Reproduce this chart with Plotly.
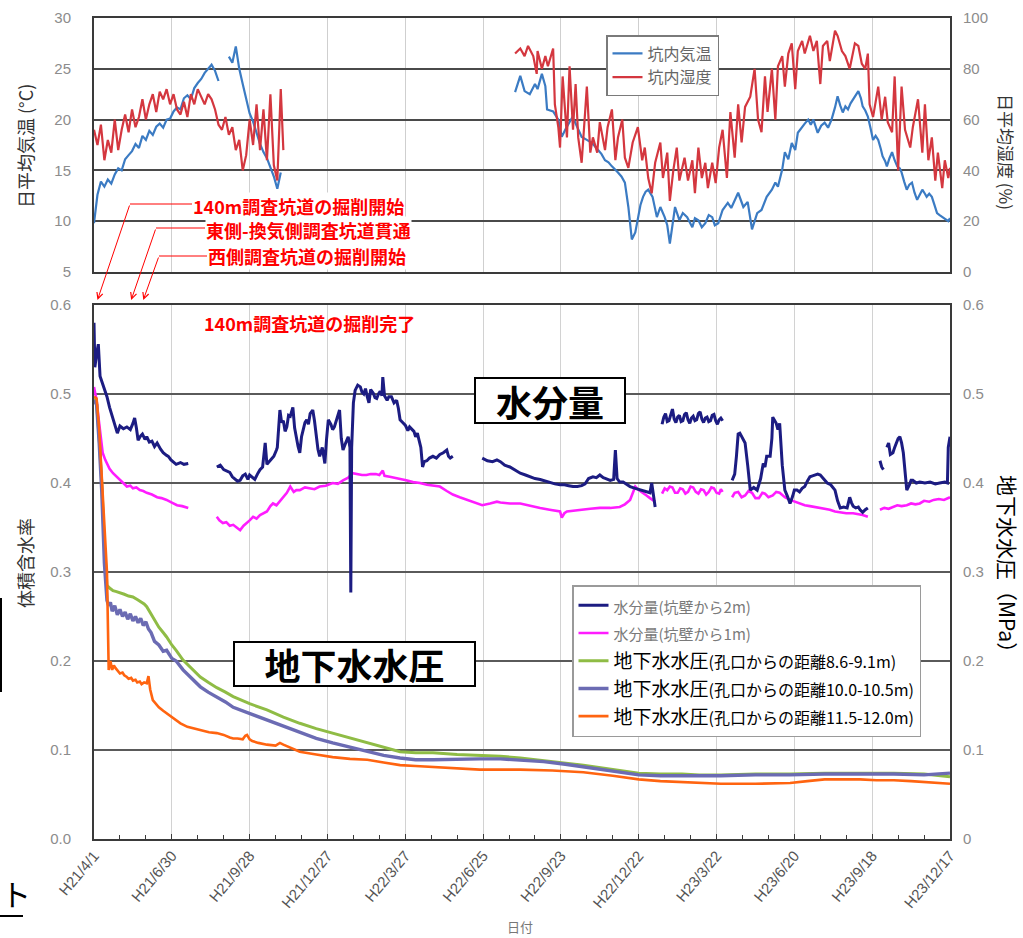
import pandas as pd
import plotly.graph_objects as go

BASE = pd.Timestamp("2009-04-01")
END = pd.Timestamp("2011-12-17")

tick_dates = ["2009-04-01", "2009-06-30", "2009-09-28", "2009-12-27", "2010-03-27", "2010-06-25",
              "2010-09-23", "2010-12-22", "2011-03-22", "2011-06-20", "2011-09-18", "2011-12-17"]
tick_labels = ["H21/4/1", "H21/6/30", "H21/9/28", "H21/12/27", "H22/3/27", "H22/6/25",
               "H22/9/23", "H22/12/22", "H23/3/22", "H23/6/20", "H23/9/18", "H23/12/17"]

# ---- gallery air temperature (degC), (days since H21/4/1, value) ----
temp_a = [(0, 9.8), (4, 12.6), (8, 13.9), (12, 13.4), (16, 14.1), (20, 13.7), (24, 14.6), (28, 15.2),
          (32, 15.0), (36, 16.1), (40, 16.5), (44, 16.9), (48, 17.6), (52, 17.2), (56, 18.4), (60, 18.0),
          (64, 18.9), (68, 18.5), (72, 19.3), (76, 19.6), (80, 19.2), (84, 20.0), (88, 20.1), (92, 20.8),
          (96, 21.2), (100, 21.0), (104, 22.1), (108, 22.4), (112, 22.0), (116, 23.1), (120, 23.6),
          (124, 24.0), (128, 24.6), (132, 25.0), (136, 25.4), (140, 24.8), (144, 23.8), (148, None),
          (156, 26.2), (160, 25.6), (164, 27.2), (168, 25.0), (172, 23.5), (176, 22.0), (180, 20.6),
          (184, 19.8), (188, 18.6), (192, 17.6), (196, 16.8), (200, 16.2), (204, 15.3), (208, 14.4),
          (212, 13.2), (216, 14.8)]
temp_b = [(487, 22.7), (490, 23.6), (493, 24.3), (498, 22.8), (504, 22.5), (510, 23.5), (513, 23.0),
          (518, 24.5), (522, 23.3), (524, 21.0), (531, 20.8), (537, 20.0), (541, 18.3), (545, 19.0),
          (549, 19.6), (553, 20.2), (556, 19.8), (560, 19.0), (564, 18.3), (570, 18.0), (576, 17.7),
          (583, 17.0), (587, 16.6), (591, 16.0), (595, 15.8), (599, 15.4), (603, 15.1), (606, 14.8),
          (610, 14.4), (614, 13.8), (618, 11.4), (622, 8.2), (626, 8.9), (629, 10.4), (632, 11.6),
          (635, 12.4), (638, 12.9), (641, 13.1), (646, 12.4), (651, 10.4), (655, 11.4), (660, 10.4),
          (663, 9.6), (666, 7.8), (669, 9.5), (672, 11.4), (677, 10.1), (681, 10.8), (686, 10.4),
          (692, 9.4), (695, 10.3), (699, 10.1), (703, 9.4), (707, 9.8), (711, 10.6), (715, 10.4),
          (718, 9.6), (722, 9.8), (727, 11.1), (733, 11.8), (737, 11.3), (741, 12.1), (745, 12.8),
          (751, 11.4), (756, 11.9), (761, 9.2), (767, 10.8), (772, 11.1), (778, 12.4), (784, 13.1),
          (788, 13.8), (791, 13.4), (796, 15.1), (799, 16.8), (803, 16.1), (807, 17.7), (811, 17.0),
          (814, 18.7), (819, 19.3), (822, 19.6), (826, 20.0), (829, 19.5), (832, 20.0), (837, 18.7),
          (841, 19.4), (845, 19.7), (849, 19.2), (853, 20.0), (857, 21.2), (860, 22.3), (863, 21.4),
          (866, 20.7), (869, 21.3), (872, 21.0), (875, 21.6), (878, 22.0), (881, 22.4), (884, 22.8),
          (887, 22.1), (889, 21.3), (892, 20.9), (895, 20.3), (898, 19.2), (901, 18.0), (904, 18.4),
          (907, 18.0), (910, 17.1), (912, 16.4), (915, 15.9), (917, 15.4), (920, 16.2), (923, 16.8),
          (926, 16.0), (929, 15.4), (932, 15.2), (934, 14.8), (937, 13.9), (940, 13.1), (943, 13.6),
          (946, 13.8), (949, 12.8), (952, 12.1), (955, 12.6), (958, 13.1), (961, 12.7), (963, 12.4),
          (966, 12.7), (969, 12.4), (972, 11.6), (975, 10.8), (978, 10.6), (981, 10.4), (984, 10.2),
          (986, 10.1), (988, 10.0), (990, 10.3)]

# ---- gallery relative humidity (%) ----
hum_a = [(0, 56), (4, 50), (8, 58), (12, 44), (16, 52), (20, 47), (24, 60), (28, 48), (32, 56), (36, 62),
         (40, 55), (44, 64), (48, 57), (52, 61), (56, 68), (60, 60), (64, 66), (68, 70), (72, 63), (76, 71),
         (80, 68), (84, 72), (88, 66), (92, 70), (96, 64), (100, 62), (104, 67), (108, 61), (112, 70),
         (116, 66), (120, 72), (124, 69), (128, 66), (132, 70), (136, 68), (140, 64), (144, 58), (148, 56),
         (152, 61), (156, 54), (160, 57), (164, 48), (168, 52), (172, 40), (176, 46), (180, 60), (184, 50),
         (188, 66), (192, 48), (196, 64), (200, 44), (204, 70), (208, 42), (212, 36), (216, 72), (219, 48)]
hum_b = [(487, 86), (493, 88), (498, 85), (502, 89), (508, 85), (512, 78), (513, 87), (518, 80), (522, 85),
         (525, 81), (531, 88), (533, 66), (537, 57), (539, 49), (542, 77), (547, 53), (550, 81), (554, 56),
         (557, 74), (560, 53), (564, 43), (570, 73), (574, 47), (577, 53), (582, 47), (585, 59), (591, 48),
         (594, 57), (599, 64), (603, 44), (606, 53), (611, 60), (614, 45), (618, 41), (623, 51), (629, 57),
         (634, 44), (637, 49), (641, 37), (645, 31), (649, 43), (655, 51), (658, 37), (663, 47), (666, 28),
         (670, 40), (674, 49), (677, 36), (683, 45), (687, 36), (692, 44), (695, 31), (699, 49), (703, 37),
         (707, 43), (710, 33), (715, 43), (719, 35), (723, 49), (727, 56), (732, 37), (736, 63), (741, 45),
         (745, 66), (749, 51), (753, 65), (759, 69), (764, 80), (768, 60), (772, 55), (776, 77), (779, 63),
         (784, 80), (788, 60), (791, 81), (796, 85), (799, 73), (803, 86), (807, 90), (811, 72), (814, 87),
         (819, 91), (822, 86), (828, 93), (832, 87), (836, 91), (840, 74), (843, 89), (848, 91), (851, 83),
         (857, 95), (860, 93), (865, 87), (869, 85), (874, 80), (880, 90), (884, 89), (888, 82), (892, 80),
         (895, 86), (897, 66), (901, 61), (907, 73), (911, 60), (915, 69), (918, 59), (923, 55), (926, 77),
         (930, 40), (934, 73), (938, 56), (944, 49), (947, 57), (953, 68), (958, 47), (961, 66), (965, 44),
         (969, 53), (973, 36), (976, 47), (981, 33), (984, 44), (988, 37), (990, 41)]

# ---- volumetric water content, 2 m from gallery wall (segments between logger gaps) ----
m2_seg1 = [(0, 0.58), (1, 0.53), (3, 0.545), (5, 0.556), (7, 0.52), (10, 0.512), (13, 0.503), (15, 0.497),
           (18, 0.485), (22, 0.471), (25, 0.462), (27, 0.456), (30, 0.464), (34, 0.461), (38, 0.463),
           (42, 0.46), (45, 0.467), (47, 0.473), (49, 0.462), (51, 0.448), (54, 0.453), (56, 0.455),
           (59, 0.449), (61, 0.452), (64, 0.446), (67, 0.447), (70, 0.441), (73, 0.445), (77, 0.438),
           (80, 0.434), (84, 0.431), (86, 0.43), (89, 0.426), (91, 0.424), (95, 0.421), (100, 0.423),
           (104, 0.421), (109, 0.422)]
m2_seg2 = [(142, 0.418), (146, 0.42), (150, 0.415), (154, 0.413), (157, 0.412), (160, 0.407), (163, 0.405),
           (166, 0.402), (169, 0.403), (172, 0.408), (175, 0.41), (178, 0.404), (180, 0.409), (183, 0.406),
           (186, 0.404), (189, 0.41), (192, 0.415), (195, 0.418), (198, 0.445), (200, 0.421), (204, 0.426),
           (208, 0.43), (211, 0.437), (212, 0.44), (215, 0.482), (217, 0.468), (219, 0.47), (221, 0.458),
           (223, 0.463), (225, 0.476), (227, 0.475), (230, 0.485), (232, 0.462), (234, 0.45), (236, 0.441),
           (238, 0.434), (240, 0.452), (242, 0.46), (244, 0.468), (246, 0.471), (248, 0.466), (250, 0.478),
           (253, 0.482), (255, 0.47), (257, 0.455), (259, 0.438), (261, 0.43), (264, 0.44), (266, 0.428),
           (267, 0.422), (269, 0.45), (271, 0.471), (274, 0.466), (276, 0.46), (278, 0.463), (280, 0.47),
           (282, 0.476), (284, 0.482), (286, 0.45), (288, 0.437), (291, 0.445), (294, 0.452), (296, 0.44),
           (297, 0.277), (298, 0.44), (300, 0.49), (302, 0.504), (305, 0.51), (308, 0.508), (310, 0.502),
           (312, 0.5), (314, 0.506), (316, 0.497), (318, 0.49), (320, 0.505), (323, 0.501), (325, 0.496),
           (327, 0.495), (329, 0.5), (331, 0.503), (333, 0.498), (334, 0.519), (336, 0.498), (339, 0.493),
           (341, 0.497), (344, 0.497), (347, 0.49), (350, 0.493), (352, 0.484), (354, 0.471), (357, 0.468),
           (360, 0.465), (363, 0.459), (365, 0.463), (368, 0.46), (370, 0.458), (372, 0.452), (374, 0.456),
           (376, 0.448), (378, 0.44), (380, 0.418), (382, 0.424), (385, 0.425), (388, 0.428), (392, 0.43),
           (396, 0.428), (400, 0.432), (404, 0.434), (408, 0.437), (410, 0.43), (412, 0.428), (415, 0.43)]
m2_seg3 = [(449, 0.428), (455, 0.425), (461, 0.424), (466, 0.426), (470, 0.424), (475, 0.42), (481, 0.418),
           (487, 0.414), (493, 0.411), (499, 0.409), (505, 0.407), (510, 0.405), (516, 0.404), (522, 0.402),
           (527, 0.401), (533, 0.399), (539, 0.398), (544, 0.398), (549, 0.397), (554, 0.396), (559, 0.396),
           (564, 0.397), (568, 0.399), (572, 0.405), (577, 0.407), (581, 0.406), (585, 0.409), (589, 0.406),
           (592, 0.405), (597, 0.403), (601, 0.404), (603, 0.437), (605, 0.405), (608, 0.401), (612, 0.401),
           (616, 0.398), (620, 0.396), (626, 0.394), (632, 0.392), (637, 0.391), (643, 0.389), (645, 0.4),
           (647, 0.385), (649, 0.373)]
m2_seg4 = [(657, 0.466), (659, 0.474), (661, 0.478), (663, 0.469), (665, 0.47), (667, 0.476), (669, 0.483),
           (671, 0.472), (673, 0.468), (675, 0.474), (677, 0.476), (679, 0.469), (681, 0.47), (683, 0.477),
           (685, 0.479), (687, 0.471), (689, 0.467), (691, 0.473), (693, 0.475), (695, 0.47), (697, 0.471),
           (699, 0.478), (701, 0.48), (703, 0.472), (705, 0.468), (707, 0.473), (709, 0.474), (711, 0.469),
           (713, 0.47), (715, 0.476), (717, 0.477), (719, 0.47), (721, 0.466), (723, 0.471), (725, 0.473),
           (727, 0.47)]
m2_seg5 = [(738, 0.403), (741, 0.41), (743, 0.43), (745, 0.455), (747, 0.456), (750, 0.45), (753, 0.445),
           (756, 0.42), (759, 0.392), (763, 0.395), (767, 0.392), (771, 0.405), (774, 0.422), (776, 0.418),
           (778, 0.43), (782, 0.43), (784, 0.45), (785, 0.474), (787, 0.47), (789, 0.467), (791, 0.46),
           (793, 0.467), (796, 0.42), (799, 0.392), (802, 0.385), (805, 0.377), (808, 0.385), (810, 0.392),
           (813, 0.392), (816, 0.39), (819, 0.394), (822, 0.396), (825, 0.402), (828, 0.407), (831, 0.408),
           (834, 0.409), (837, 0.41), (840, 0.409), (844, 0.404), (848, 0.4), (852, 0.398), (857, 0.392),
           (860, 0.38), (863, 0.372), (867, 0.373), (871, 0.372), (873, 0.38), (874, 0.384), (876, 0.378),
           (878, 0.374), (881, 0.372), (884, 0.373), (886, 0.37), (889, 0.367), (892, 0.37), (895, 0.372)]
m2_seg6 = [(909, 0.425), (911, 0.418), (913, 0.415)]
m2_seg7 = [(917, 0.44), (919, 0.445), (921, 0.432), (924, 0.434), (926, 0.44), (928, 0.445), (930, 0.45),
           (932, 0.452), (934, 0.445), (936, 0.434), (938, 0.41), (940, 0.392), (943, 0.398), (945, 0.403),
           (947, 0.403), (951, 0.4), (955, 0.401), (961, 0.4), (967, 0.401), (973, 0.399), (978, 0.4),
           (984, 0.401), (987, 0.4), (988, 0.44), (990, 0.452)]

# ---- volumetric water content, 1 m from gallery wall ----
m1_seg1 = [(0, 0.508), (2, 0.5), (3, 0.493), (5, 0.475), (7, 0.46), (9, 0.445), (10, 0.434), (13, 0.426),
           (15, 0.422), (18, 0.416), (22, 0.411), (26, 0.407), (30, 0.403), (34, 0.399), (38, 0.396),
           (42, 0.397), (45, 0.394), (49, 0.395), (53, 0.392), (57, 0.391), (61, 0.389), (67, 0.387),
           (73, 0.384), (78, 0.383), (84, 0.381), (90, 0.378), (96, 0.375), (102, 0.374), (109, 0.372)]
m1_seg2 = [(142, 0.362), (145, 0.358), (149, 0.355), (153, 0.356), (157, 0.352), (161, 0.353), (165, 0.35),
           (169, 0.347), (173, 0.352), (177, 0.355), (180, 0.358), (184, 0.362), (188, 0.36), (192, 0.364),
           (196, 0.366), (200, 0.368), (204, 0.374), (207, 0.377), (211, 0.375), (215, 0.38), (219, 0.384),
           (223, 0.389), (227, 0.396), (231, 0.39), (234, 0.392), (238, 0.392), (244, 0.395), (250, 0.394),
           (255, 0.393), (261, 0.396), (268, 0.397), (276, 0.4), (282, 0.399), (288, 0.403), (294, 0.406),
           (299, 0.411), (304, 0.41), (310, 0.409), (315, 0.409), (320, 0.41), (326, 0.41), (330, 0.409),
           (334, 0.414), (336, 0.408), (342, 0.407), (348, 0.406), (354, 0.405), (361, 0.403), (369, 0.401),
           (377, 0.4), (385, 0.398), (393, 0.397), (400, 0.396), (408, 0.391), (415, 0.387), (423, 0.384),
           (431, 0.381), (440, 0.378), (449, 0.375), (458, 0.377), (466, 0.379), (470, 0.378), (481, 0.377),
           (493, 0.377), (505, 0.374), (516, 0.372), (527, 0.37), (535, 0.369), (539, 0.368), (541, 0.361),
           (544, 0.366), (547, 0.368), (555, 0.369), (562, 0.37), (574, 0.371), (585, 0.372), (597, 0.372),
           (608, 0.373), (614, 0.376), (620, 0.381), (624, 0.39), (626, 0.396), (630, 0.392), (635, 0.389),
           (639, 0.386), (643, 0.383), (649, 0.379)]
m1_seg3 = [(657, 0.388), (660, 0.394), (663, 0.392), (666, 0.396), (669, 0.395), (672, 0.389), (675, 0.389),
           (678, 0.394), (681, 0.393), (684, 0.388), (687, 0.39), (690, 0.396), (693, 0.395), (696, 0.39),
           (699, 0.388), (702, 0.393), (705, 0.392), (708, 0.387), (711, 0.39), (714, 0.395), (717, 0.394),
           (720, 0.389), (723, 0.388), (725, 0.393), (727, 0.39)]
m1_seg4 = [(738, 0.384), (741, 0.389), (745, 0.39), (749, 0.384), (753, 0.386), (757, 0.391), (761, 0.389),
           (765, 0.383), (769, 0.383), (773, 0.389), (776, 0.388), (780, 0.384), (785, 0.386), (789, 0.39),
           (793, 0.389), (799, 0.384), (805, 0.381), (810, 0.379), (816, 0.377), (822, 0.375), (828, 0.374),
           (834, 0.373), (840, 0.372), (846, 0.371), (851, 0.37), (857, 0.368), (863, 0.367), (870, 0.366),
           (878, 0.366), (884, 0.365), (889, 0.364), (895, 0.362)]
m1_seg5 = [(909, 0.37), (914, 0.372), (919, 0.371), (924, 0.373), (929, 0.375), (934, 0.374), (940, 0.375),
           (945, 0.377), (950, 0.376), (955, 0.377), (960, 0.38), (966, 0.379), (971, 0.381), (977, 0.382),
           (983, 0.381), (990, 0.384)]

# ---- groundwater pressure (MPa) by distance from borehole collar ----
p_86_91 = [(0, 0.495), (3, 0.49), (6, 0.45), (9, 0.4), (12, 0.33), (15, 0.285), (18, 0.282), (22, 0.279),
           (26, 0.278), (30, 0.277), (35, 0.275), (40, 0.273), (45, 0.272), (50, 0.269), (55, 0.266),
           (58, 0.264), (61, 0.261), (64, 0.256), (68, 0.25), (72, 0.243), (75, 0.238), (80, 0.232),
           (84, 0.227), (90, 0.218), (95, 0.212), (103, 0.201), (112, 0.192), (123, 0.182), (132, 0.176),
           (142, 0.17), (152, 0.165), (161, 0.16), (180, 0.152), (200, 0.145), (219, 0.137), (238, 0.13),
           (257, 0.124), (276, 0.119), (296, 0.113), (316, 0.108), (335, 0.103), (354, 0.098), (372, 0.097),
           (392, 0.097), (420, 0.095), (446, 0.094), (470, 0.093), (493, 0.091), (530, 0.087), (566, 0.083),
           (600, 0.078), (630, 0.074), (655, 0.073), (680, 0.073), (700, 0.072), (725, 0.072), (765, 0.073),
           (805, 0.073), (845, 0.074), (886, 0.074), (925, 0.074), (960, 0.073), (990, 0.07)]
p_100_105 = [(0, 0.493), (3, 0.488), (6, 0.445), (9, 0.39), (12, 0.31), (15, 0.268), (17, 0.262), (19, 0.266),
             (21, 0.256), (24, 0.262), (27, 0.252), (30, 0.258), (33, 0.25), (36, 0.255), (39, 0.247),
             (42, 0.253), (45, 0.245), (48, 0.25), (51, 0.243), (54, 0.248), (57, 0.24), (60, 0.244),
             (63, 0.236), (66, 0.232), (70, 0.222), (75, 0.218), (80, 0.211), (84, 0.212), (90, 0.203),
             (95, 0.2), (103, 0.19), (112, 0.181), (123, 0.171), (132, 0.165), (142, 0.16), (152, 0.154),
             (161, 0.148), (180, 0.141), (200, 0.134), (219, 0.126), (238, 0.119), (257, 0.113), (276, 0.108),
             (296, 0.103), (316, 0.098), (335, 0.094), (354, 0.091), (372, 0.089), (392, 0.089), (420, 0.09),
             (446, 0.09), (470, 0.09), (493, 0.089), (520, 0.087), (545, 0.084), (566, 0.081), (590, 0.077),
             (610, 0.075), (630, 0.072), (655, 0.071), (680, 0.071), (725, 0.071), (765, 0.072), (805, 0.072),
             (845, 0.073), (886, 0.073), (925, 0.073), (960, 0.072), (985, 0.073), (990, 0.074)]
p_115_120 = [(0, 0.497), (3, 0.495), (6, 0.46), (10, 0.39), (13, 0.33), (15, 0.3), (17, 0.19), (19, 0.2),
             (21, 0.19), (23, 0.195), (25, 0.192), (28, 0.188), (30, 0.186), (33, 0.187), (35, 0.184),
             (38, 0.182), (40, 0.18), (43, 0.181), (45, 0.178), (48, 0.179), (50, 0.176), (53, 0.177),
             (55, 0.174), (58, 0.176), (61, 0.175), (63, 0.183), (65, 0.168), (68, 0.156), (72, 0.151),
             (75, 0.148), (80, 0.144), (84, 0.141), (90, 0.137), (95, 0.133), (100, 0.13), (108, 0.126),
             (116, 0.124), (125, 0.122), (133, 0.12), (142, 0.119), (150, 0.117), (157, 0.114), (161, 0.113),
             (166, 0.113), (172, 0.112), (175, 0.116), (177, 0.117), (180, 0.112), (183, 0.11), (190, 0.108),
             (200, 0.106), (210, 0.105), (215, 0.108), (219, 0.106), (228, 0.102), (238, 0.098), (257, 0.095),
             (276, 0.092), (296, 0.09), (316, 0.089), (335, 0.086), (354, 0.083), (372, 0.082), (392, 0.081),
             (420, 0.08), (446, 0.078), (470, 0.078), (493, 0.078), (530, 0.077), (566, 0.075), (600, 0.071),
             (630, 0.067), (655, 0.065), (680, 0.064), (700, 0.063), (725, 0.062), (765, 0.062), (805, 0.063),
             (825, 0.065), (845, 0.067), (865, 0.067), (886, 0.067), (905, 0.066), (925, 0.066), (945, 0.065),
             (960, 0.064), (975, 0.063), (990, 0.062)]

# ---- construction events (days since H21/4/1) ----
event_days = [4, 43, 57]
event_labels = ["140m調査坑道の掘削開始", "東側-換気側調査坑道貫通", "西側調査坑道の掘削開始"]
completion_label = "140m調査坑道の掘削完了"

JP = "Noto Sans CJK JP"
NUM = "Liberation Sans"
W, H = 1023, 938


def join_segments(*segments):
    """Concatenate (day, value) segments into one x/y pair, breaking the line between segments."""
    xs, ys = [], []
    for seg in segments:
        if xs:
            xs.append(xs[-1] + pd.Timedelta(hours=12))
            ys.append(None)
        for d, v in seg:
            xs.append(BASE + pd.Timedelta(days=d))
            ys.append(v)
    return xs, ys


def px(x):
    return x / W


def py(y):
    return 1 - y / H


fig = go.Figure()

# upper panel: temperature and humidity
tx, ty = join_segments(temp_a, temp_b)
hx, hy = join_segments(hum_a, hum_b)
fig.add_trace(go.Scatter(x=tx, y=ty, mode="lines", name="坑内気温", line=dict(color="#3b7bc3", width=2.2),
                         xaxis="x", yaxis="y", legend="legend2", legendrank=1, connectgaps=False))
fig.add_trace(go.Scatter(x=hx, y=hy, mode="lines", name="坑内湿度", line=dict(color="#d4373f", width=2.2),
                         xaxis="x", yaxis="y2", legend="legend2", legendrank=2, connectgaps=False))

# lower panel: water content and groundwater pressure
gray = "#7a7a7a"
m1x, m1y = join_segments(m1_seg1, m1_seg2, m1_seg3, m1_seg4, m1_seg5)
m2x, m2y = join_segments(m2_seg1, m2_seg2, m2_seg3, m2_seg4, m2_seg5, m2_seg6, m2_seg7)
fig.add_trace(go.Scatter(x=m1x, y=m1y, mode="lines", connectgaps=False,
                         name=f'<span style="font-size:15px;color:{gray}">水分量(坑壁から1m)</span>',
                         line=dict(color="#ff1cff", width=2.6), xaxis="x2", yaxis="y3", legendrank=2))
fig.add_trace(go.Scatter(x=m2x, y=m2y, mode="lines", connectgaps=False,
                         name=f'<span style="font-size:15px;color:{gray}">水分量(坑壁から2m)</span>',
                         line=dict(color="#1c1c82", width=3), xaxis="x2", yaxis="y3", legendrank=1))

pressure = [(p_86_91, "8.6-9.1m", "#8fbc45", 3), (p_100_105, "10.0-10.5m", "#6b6bb3", 3.4),
            (p_115_120, "11.5-12.0m", "#ff6410", 2.6)]
for rank, (seg, dist, color, width) in enumerate(pressure, start=3):
    x, y = join_segments(seg)
    fig.add_trace(go.Scatter(x=x, y=y, mode="lines",
                             name=f'地下水水圧<span style="font-size:16px">(孔口からの距離{dist})</span>',
                             line=dict(color=color, width=width), xaxis="x2", yaxis="y3", legendrank=rank))

xdom = [px(94), px(950)]
top_dom = [py(272), py(18)]
bot_dom = [py(839), py(305)]
frame = dict(showline=True, linecolor="#3a3a3a", linewidth=2, mirror=True)
tickfont = dict(family=NUM, size=15, color="#8c8c8c")
DAY_MS = 86400000

fig.update_layout(
    width=W, height=H, margin=dict(l=0, r=0, t=0, b=0),
    paper_bgcolor="white", plot_bgcolor="white",
    font=dict(family=JP),
    xaxis=dict(domain=xdom, anchor="y", type="date", range=[BASE, END], tick0="2009-04-01",
               dtick=90 * DAY_MS, showticklabels=False, ticks="", showgrid=True, gridcolor="#cfcfcf",
               gridwidth=1, zeroline=False, **frame),
    yaxis=dict(domain=top_dom, anchor="x", range=[5, 30], dtick=5, showgrid=True, gridcolor="#4a4a4a",
               gridwidth=1.5, zeroline=False, tickfont=tickfont, ticks="", ticklabelstandoff=18,
               automargin=False, **frame),
    yaxis2=dict(overlaying="y", side="right", anchor="x", range=[0, 100], dtick=20, showgrid=False,
                zeroline=False, tickfont=tickfont, ticks="", ticklabelstandoff=12, automargin=False,
                showline=False),
    xaxis2=dict(domain=xdom, anchor="y3", type="date", range=[BASE, END], tickmode="array",
                tickvals=tick_dates, ticktext=tick_labels, tickangle=-50,
                tickfont=dict(family=NUM, size=15, color="#555555"), ticks="inside", ticklen=5,
                tickcolor="#3a3a3a", showgrid=True, gridcolor="#d2d2d2", gridwidth=1, zeroline=False,
                minor=dict(tick0="2009-04-01", dtick=30 * DAY_MS, ticks="inside", ticklen=4,
                           tickcolor="#3a3a3a", showgrid=False),
                automargin=False, **frame),
    yaxis3=dict(domain=bot_dom, anchor="x2", range=[0, 0.6], dtick=0.1, tickformat=".1f", showgrid=True,
                gridcolor="#5a5a5a", gridwidth=1.5, zeroline=False, tickfont=tickfont, ticks="",
                ticklabelstandoff=18, automargin=False, **frame),
    yaxis4=dict(overlaying="y3", side="right", anchor="x2", range=[0, 0.6], tickmode="array",
                tickvals=[0, 0.1, 0.2, 0.3, 0.4, 0.5, 0.6],
                ticktext=["0", "0.1", "0.2", "0.3", "0.4", "0.5", "0.6"], showgrid=False, zeroline=False,
                tickfont=tickfont, ticks="", ticklabelstandoff=12, automargin=False, showline=False),
    legend=dict(x=px(572), y=py(585), xanchor="left", yanchor="top", bgcolor="white",
                bordercolor="#9a9a9a", borderwidth=1.5, font=dict(family=JP, size=19, color="black"),
                traceorder="normal", itemwidth=30, tracegroupgap=0),
    legend2=dict(x=px(606), y=py(35), xanchor="left", yanchor="top", bgcolor="white",
                 bordercolor="#7a7a7a", borderwidth=1.5, font=dict(family=JP, size=16, color="#666666"),
                 traceorder="normal", itemwidth=30),
    showlegend=True,
)

# empty trace so yaxis4 (right pressure scale) is rendered
fig.add_trace(go.Scatter(x=[BASE], y=[None], xaxis="x2", yaxis="y4", showlegend=False, hoverinfo="skip"))

annotations = []
shapes = []

# axis titles
annotations += [
    dict(text="日平均気温 (°C)", x=px(25), y=py(146), textangle=-90, font=dict(size=18, color="#333333")),
    dict(text="日平均湿度 (%)", x=px(1006), y=py(152), textangle=90, font=dict(size=17, color="#333333")),
    dict(text="体積含水率", x=px(25), y=py(563), textangle=-90, font=dict(size=18, color="#333333")),
    dict(text="地下水水圧（MPa）", x=px(1008), y=py(569), textangle=90, font=dict(size=21, color="black")),
    dict(text="日付", x=px(520), y=py(926), font=dict(size=13, color="#777777")),
]

# event markers: label, horizontal leader, arrow to the date on the lower panel's top edge
label_pos = [(192, 206, 130, 204), (205, 230, 156, 228), (207, 256, 159, 256)]
for day, label, (lx, ly, kx, ky) in zip(event_days, event_labels, label_pos):
    annotations.append(dict(text=f"<b>{label}</b>", x=px(lx), y=py(ly), xanchor="left",
                            font=dict(size=18, color="#ff0000"), bgcolor="white", borderpad=0))
    shapes.append(dict(type="line", xref="paper", yref="paper", x0=px(kx), y0=py(ky), x1=px(lx), y1=py(ky),
                       line=dict(color="#ff0000", width=1)))
    tip_x = BASE + pd.Timedelta(days=day)
    tip_px = 94 + day * 856 / 990
    annotations.append(dict(text="", x=tip_x, xref="x2", y=py(300), yref="paper",
                            ax=kx - tip_px, ay=ky - 300, axref="pixel", ayref="pixel", showarrow=True,
                            arrowhead=5, arrowsize=1.2, arrowwidth=1, arrowcolor="#ff0000", standoff=0))

annotations.append(dict(text=f"<b>{completion_label}</b>", x=px(202), y=py(323), xanchor="left",
                        font=dict(size=18, color="#ff0000")))

# boxed panel labels
annotations += [
    dict(text="<b>水分量</b>", x=px(550), y=py(401), width=148, height=43, font=dict(size=36, color="black"),
         bordercolor="black", borderwidth=2, bgcolor="white", borderpad=0),
    dict(text="<b>地下水水圧</b>", x=px(354.5), y=py(664), width=239, height=42,
         font=dict(size=36, color="black"), bordercolor="black", borderwidth=2, bgcolor="white", borderpad=0),
]

# fragment of neighbouring page content at the left edge
annotations.append(dict(text="ト", x=px(16), y=py(893), font=dict(size=30, color="black")))
shapes += [
    dict(type="line", xref="paper", yref="paper", x0=px(1), y0=py(598), x1=px(1), y1=py(692),
         line=dict(color="black", width=2)),
    dict(type="line", xref="paper", yref="paper", x0=0, y0=py(916), x1=px(23), y1=py(916),
         line=dict(color="black", width=2)),
]

for a in annotations:
    a.setdefault("xref", "paper")
    a.setdefault("yref", "paper")
    a.setdefault("showarrow", False)
    a.setdefault("xanchor", "center")
    a.setdefault("yanchor", "middle")

fig.update_layout(annotations=annotations, shapes=shapes)
fig.write_html("out.html")
